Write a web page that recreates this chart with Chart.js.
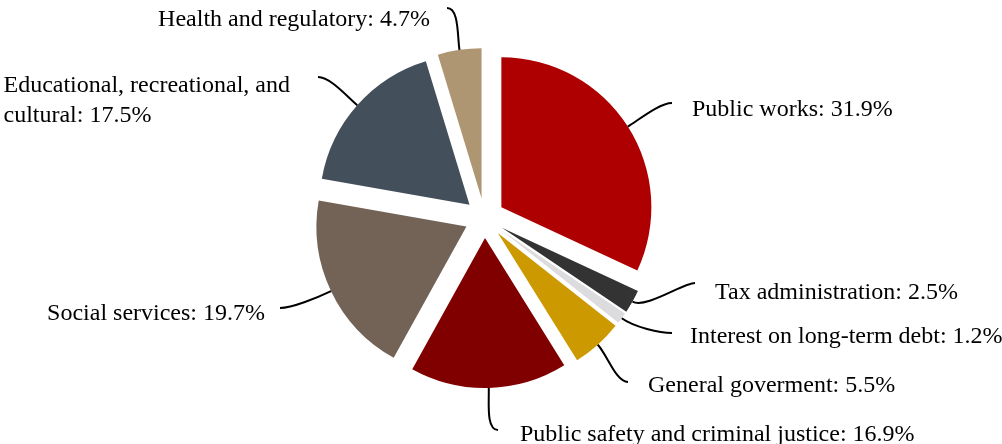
<!DOCTYPE html>
<html>
<head>
<meta charset="utf-8">
<script src="https://cdn.jsdelivr.net/npm/chart.js@4/dist/chart.umd.min.js"></script>
<style>
  html, body { margin: 0; padding: 0; background: #fff; }
  canvas { display: block; }
</style>
</head>
<body>
<canvas id="spending-chart" width="1002" height="444"></canvas>
<script>
const categories = [
  'Public works',
  'Tax administration',
  'Interest on long-term debt',
  'General goverment',
  'Public safety and criminal justice',
  'Social services',
  'Educational, recreational, and cultural',
  'Health and regulatory'
];
const shares = [31.9, 2.5, 1.2, 5.5, 16.9, 19.7, 17.5, 4.7];
const sliceColors = ['#ae0000', '#333333', '#dcdcde', '#cc9900', '#800000', '#736357', '#434f5b', '#ad9671'];

// where each leader line ends, relative to the pie centre (layout only)
// ty = text baseline below the leader end
const labelLayout = [
  { ex: 187.5, ey: -115, gap: 20, ty: 13 },
  { ex: 210.5, ey: 65, gap: 20, ty: 16 },
  { ex: 187.5, ey: 115, gap: 18, ty: 10 },
  { ex: 143.5, ey: 164, gap: 20, ty: 10 },
  { ex: 13.5, ey: 212, gap: 22, ty: 11 },
  { ex: -204.5, ey: 90, gap: 15, ty: 12 },
  { ex: -166.5, ey: -141, gap: 28, ty: 15, maxWidth: 300 },
  { ex: -37.5, ey: -210, gap: 17, ty: 18 }
];

const EXPLODE = 20;
const LABEL_FONT = '24px "Liberation Serif", "Times New Roman", serif';

// push every slice out along its middle angle without growing its radius
const ArcElement = Chart.ArcElement || Chart.elements.ArcElement;
const baseArcDraw = ArcElement.prototype.draw;
ArcElement.prototype.draw = function (ctx) {
  const mid = (this.startAngle + this.endAngle) / 2;
  ctx.save();
  ctx.translate(Math.cos(mid) * EXPLODE, Math.sin(mid) * EXPLODE);
  baseArcDraw.call(this, ctx);
  ctx.restore();
};

function wrapText(ctx, text, maxWidth) {
  if (!maxWidth) return [text];
  const words = text.split(' ');
  const lines = [];
  let line = '';
  words.forEach(w => {
    const test = line ? line + ' ' + w : w;
    if (line && ctx.measureText(test).width > maxWidth) {
      lines.push(line);
      line = w;
    } else {
      line = test;
    }
  });
  if (line) lines.push(line);
  return lines;
}

const leaderLabels = {
  id: 'leaderLabels',
  afterDatasetsDraw(chart) {
    const ctx = chart.ctx;
    const arcs = chart.getDatasetMeta(0).data;
    ctx.save();
    ctx.font = LABEL_FONT;
    ctx.fillStyle = '#000';
    ctx.strokeStyle = '#000';
    ctx.lineWidth = 2;
    ctx.textBaseline = 'alphabetic';
    ctx.textAlign = 'left';

    arcs.forEach((arc, i) => {
      const lay = labelLayout[i];
      const mid = (arc.startAngle + arc.endAngle) / 2;
      const dx = Math.cos(mid), dy = Math.sin(mid);
      const r = arc.outerRadius + EXPLODE;
      const sx = arc.x + dx * r;
      const sy = arc.y + dy * r;
      const ex = arc.x + lay.ex;
      const ey = arc.y + lay.ey;
      const side = lay.ex >= 0 ? 1 : -1;

      ctx.beginPath();
      ctx.moveTo(sx, sy);
      ctx.bezierCurveTo(sx + dx * 15, sy + dy * 15, ex - side * 12, ey, ex, ey);
      ctx.stroke();

      const text = categories[i] + ': ' + shares[i].toFixed(1) + '%';
      const lines = wrapText(ctx, text, lay.maxWidth);
      const blockWidth = Math.max(...lines.map(l => ctx.measureText(l).width));
      const x0 = side > 0 ? ex + lay.gap : ex - lay.gap - blockWidth;
      lines.forEach((l, k) => {
        ctx.fillText(l, x0, ey + lay.ty + k * 30);
      });
    });
    ctx.restore();
  }
};

new Chart(document.getElementById('spending-chart').getContext('2d'), {
  type: 'pie',
  data: {
    labels: categories,
    datasets: [{
      data: shares,
      backgroundColor: sliceColors,
      borderWidth: 0
    }]
  },
  options: {
    responsive: false,
    devicePixelRatio: 1,
    animation: false,
    radius: 150,
    layout: { padding: { left: 0, right: 33, top: 0, bottom: 8 } },
    plugins: {
      legend: { display: false },
      tooltip: { enabled: false }
    }
  },
  plugins: [leaderLabels]
});
</script>
</body>
</html>
